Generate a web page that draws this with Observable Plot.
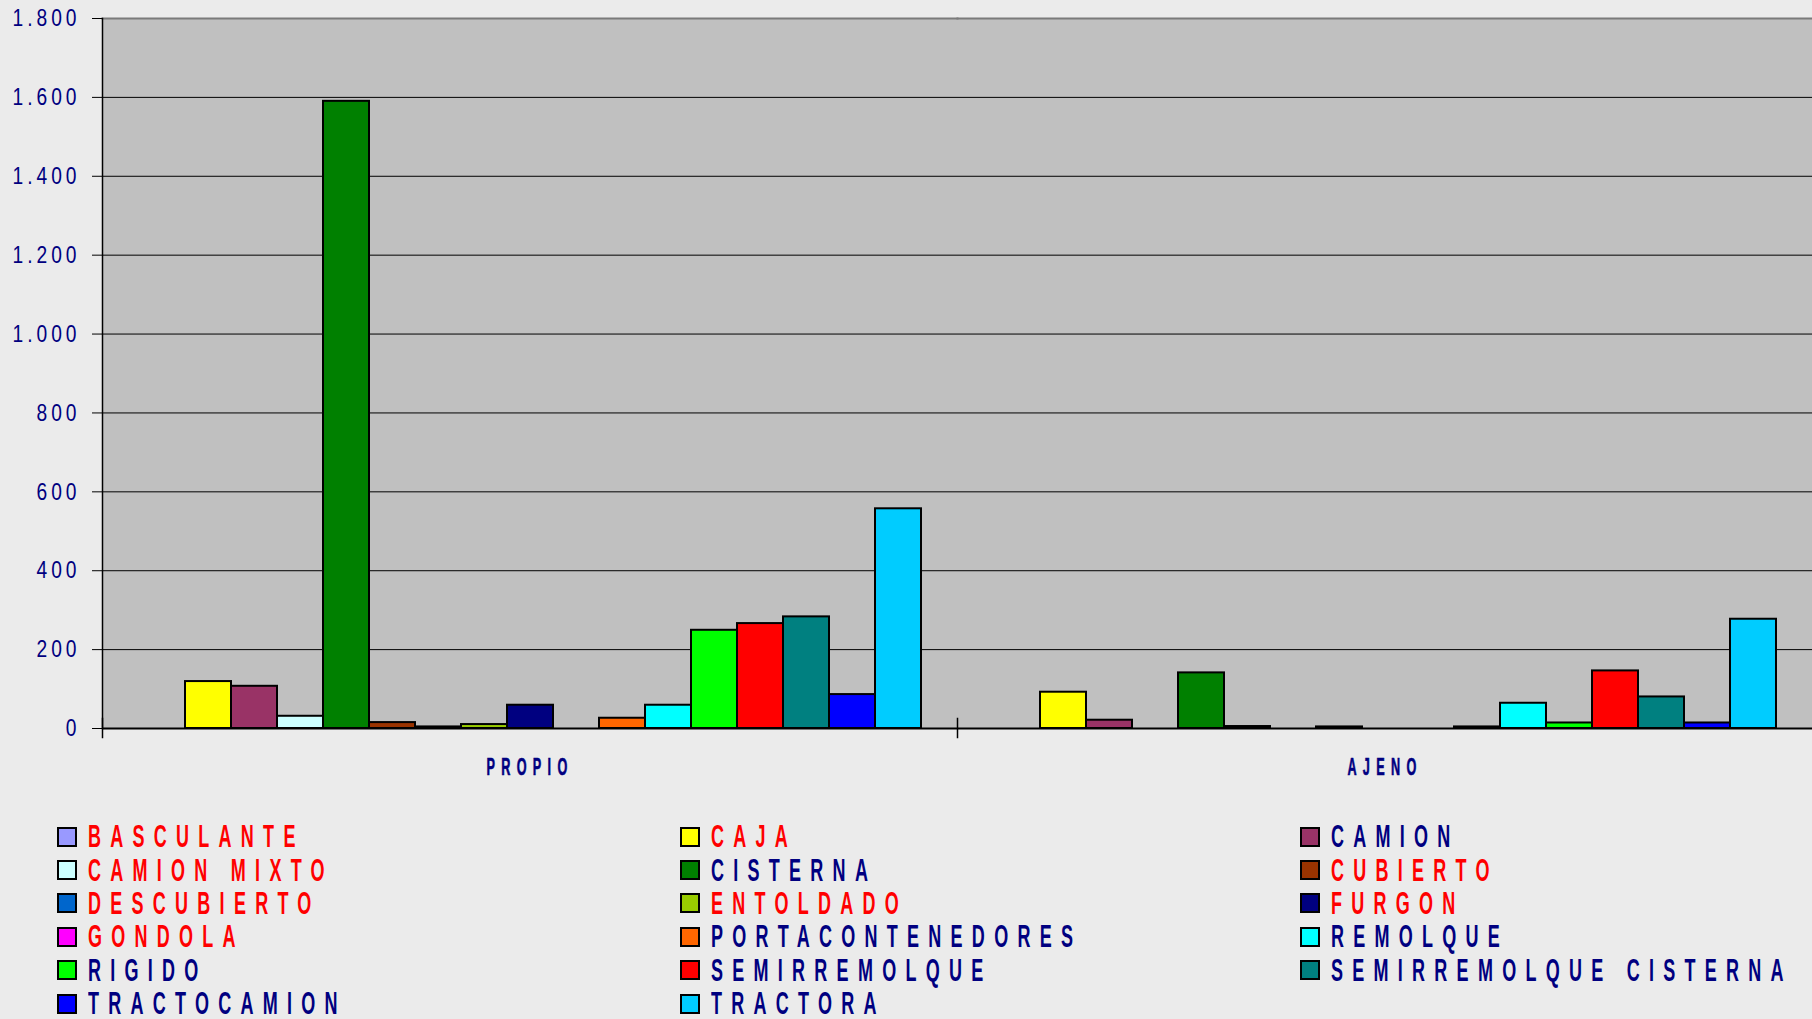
<!DOCTYPE html>
<html><head><meta charset="utf-8">
<script src="https://cdn.jsdelivr.net/npm/d3@7"></script>
<script src="https://cdn.jsdelivr.net/npm/@observablehq/plot@0.6"></script>
<style>
html,body{margin:0;padding:0;background:#EBEBEB;width:1812px;height:1019px;overflow:hidden;font-family:"Liberation Sans",Arial,sans-serif;}
#chart svg{display:block}
#legend{display:grid;grid-template-columns:623px 620px 500px;grid-auto-rows:33.4px;padding:30px 0 0 57px;}
.item{display:flex;align-items:center;white-space:nowrap}
.sw{width:16px;height:16px;border:2px solid #000;flex:none;margin-right:11px}
.lbl{display:inline-block;font-weight:bold;font-size:31px;letter-spacing:16px;transform:scaleX(0.58);transform-origin:left center;line-height:1}
</style></head>
<body><div id="chart"></div><div id="legend"></div>
<script>
const groups = ["PROPIO", "AJENO"];
const series = ["BASCULANTE","CAJA","CAMION","CAMION MIXTO","CISTERNA","CUBIERTO","DESCUBIERTO","ENTOLDADO","FURGON","GONDOLA","PORTACONTENEDORES","REMOLQUE","RIGIDO","SEMIRREMOLQUE","SEMIRREMOLQUE CISTERNA","TRACTOCAMION","TRACTORA"];
const propio = [0, 119, 107, 31, 1590, 15, 4, 10, 59, 0, 26, 59, 249, 266, 283, 86, 557];
const ajeno  = [0, 92, 21, 0, 141, 5, 0, 4, 0, 0, 4, 64, 14, 146, 80, 14, 277];
const seriesColors = ["#9999FF","#FFFF00","#993366","#CCFFFF","#008000","#993300","#0066CC","#99CC00","#000080","#FF00FF","#FF6600","#00FFFF","#00FF00","#FF0000","#008080","#0000FF","#00CCFF"];
const labelColors = ["#FF0000","#FF0000","#000080","#FF0000","#000080","#FF0000","#FF0000","#FF0000","#FF0000","#FF0000","#000080","#000080","#000080","#000080","#000080","#000080","#000080"];
const yTicks = [0, 200, 400, 600, 800, 1000, 1200, 1400, 1600, 1800];

const data = groups.flatMap((g, gi) => series.map((s, i) => ({group: g, series: s, value: (gi === 0 ? propio : ajeno)[i]})));
const fmt = d => d >= 1000 ? `${Math.floor(d / 1000)}.${String(d % 1000).padStart(3, "0")}` : String(d);

const chart = Plot.plot({
  width: 1812, height: 790,
  marginLeft: 102, marginRight: 0, marginTop: 18, marginBottom: 62,
  style: {background: "transparent", fontFamily: "'Liberation Sans', Arial, sans-serif"},
  fx: {domain: groups, paddingInner: 0, paddingOuter: 0, label: null},
  x: {domain: series, paddingInner: 0, paddingOuter: 0.75, axis: null},
  y: {domain: [0, 1800], label: null},
  color: {domain: series, range: seriesColors},
  marks: [
    Plot.frame({fill: "#C0C0C0", shapeRendering: "crispEdges"}),
    Plot.gridY(yTicks.filter(d => d > 0 && d < 1800), {stroke: "#000", strokeOpacity: 1, strokeWidth: 1}),
    Plot.frame({anchor: "top", stroke: "#7a7a7a", strokeWidth: 2}),
    Plot.barY(data.filter(d => d.value > 0), {fx: "group", x: "series", y: "value", fill: "series", stroke: "#000", strokeWidth: 2}),
    Plot.ruleY([0], {stroke: "#000", strokeWidth: 2}),
    Plot.frame({anchor: "left", facetAnchor: "left", stroke: "#000", strokeWidth: 1.5}),
    Plot.frame({anchor: "left", stroke: "#000", strokeWidth: 1.5, insetTop: 700, insetBottom: -9}),
    Plot.axisY(yTicks, {tickSize: 10, tickPadding: 12, tickFormat: fmt, fontSize: 24, stroke: "#000", fill: "#000080", label: null}),
    Plot.axisFx({anchor: "bottom", tickSize: 0, tickPadding: 30, fontSize: 23, fontWeight: "bold", fill: "#000080", label: null})
  ]
});
document.getElementById("chart").append(chart);

// condense axis text horizontally (narrow, letter-spaced look)
function condense(sel, spacing, k, bold) {
  d3.select(chart).selectAll(sel).each(function () {
    this.style.letterSpacing = spacing + "px";
    const w = this.getComputedTextLength();
    this.setAttribute("textLength", w * k);
    this.setAttribute("lengthAdjust", "spacingAndGlyphs");
    if (bold) { this.setAttribute("stroke", "#000080"); this.setAttribute("stroke-width", bold); }
  });
}
condense('g[aria-label="fx-axis tick label"] text', 11.5, 0.55, 0.6);
condense('g[aria-label="y-axis tick label"] text', 5, 0.8);

// legend
const legend = d3.select("#legend");
series.forEach((s, i) => {
  const item = legend.append("div").attr("class", "item");
  item.append("span").attr("class", "sw").style("background", seriesColors[i]);
  item.append("span").attr("class", "lbl").style("color", labelColors[i]).text(s);
});
</script>
</body></html>
